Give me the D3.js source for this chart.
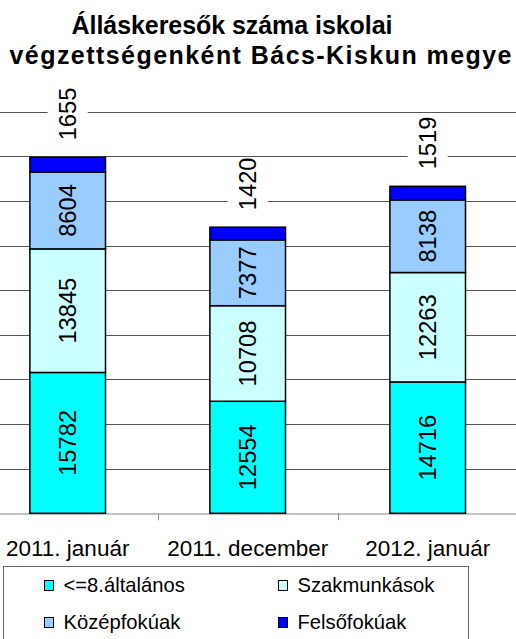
<!DOCTYPE html>
<html>
<head>
<meta charset="utf-8">
<script src="https://cdn.jsdelivr.net/npm/d3@7"></script>
<style>
  body { margin: 0; background: #fff; }
  svg { display: block; font-family: "Liberation Sans", Arial, sans-serif; }
</style>
</head>
<body>
<div id="wrapper"></div>
<script>
/* 1. Data */
const categories = ["2011. január", "2011. december", "2012. január"]
const seriesNames = ["<=8.általános", "Szakmunkások", "Középfokúak", "Felsőfokúak"]
const altalanos = [15782, 12554, 14716]
const szakmunkas = [13845, 10708, 12263]
const kozepfoku = [8604, 7377, 8138]
const felsofoku = [1655, 1420, 1519]
const gridTicks = [5000, 10000, 15000, 20000, 25000, 30000, 35000, 40000, 45000]
const titleLines = ["Álláskeresők száma iskolai", "végzettségenként Bács-Kiskun megye"]

const colors = ["#00ffff", "#ccffff", "#99ccff", "#0000ff"]

const dataset = categories.map((c, i) => ({
    cat: c,
    [seriesNames[0]]: altalanos[i],
    [seriesNames[1]]: szakmunkas[i],
    [seriesNames[2]]: kozepfoku[i],
    [seriesNames[3]]: felsofoku[i],
}))

/* 2. Dimensions */
const width = 516
const height = 639
// plot area is wider than the picture (cropped at both sides)
const plot = { left: -22.3, right: 517.7, top: 111.7, bottom: 513.3 }

/* 3. Canvas */
const svg = d3.select("#wrapper").append("svg")
    .attr("width", width)
    .attr("height", height)

/* 4. Scales */
const xScale = d3.scaleBand()
    .domain(categories)
    .range([plot.left, plot.right])
    .paddingInner(0.58)
    .paddingOuter(0.29)

const yScale = d3.scaleLinear()
    .domain([0, 45000])
    .range([plot.bottom, plot.top])

const colorScale = d3.scaleOrdinal()
    .domain(seriesNames)
    .range(colors)

/* 5. Title */
svg.selectAll(".title")
    .data(titleLines)
    .enter().append("text")
    .attr("class", "title")
    .attr("x", (d, i) => i === 0 ? 232 : 260.5)
    .attr("y", (d, i) => i === 0 ? 34 : 64)
    .attr("text-anchor", "middle")
    .attr("font-size", 25)
    .attr("font-weight", "bold")
    .attr("textLength", (d, i) => i === 0 ? 321 : 502)
    .attr("lengthAdjust", "spacing")
    .text(d => d)

/* 6. Gridlines and axis */
svg.append("g")
    .selectAll("line")
    .data(gridTicks)
    .enter().append("line")
    .attr("x1", plot.left)
    .attr("x2", plot.right)
    .attr("y1", d => Math.round(yScale(d)) + 0.5)
    .attr("y2", d => Math.round(yScale(d)) + 0.5)
    .attr("stroke", "#555")
    .attr("stroke-width", 1)

const xAxisGenerator = d3.axisBottom(xScale).tickSize(0).tickFormat("")
const xAxis = svg.append("g")
    .attr("transform", `translate(0, ${Math.round(plot.bottom) + 0.5})`)
    .call(xAxisGenerator)
xAxis.select(".domain").attr("stroke", "#888")

// ticks between categories
const step = xScale.step()
svg.append("g")
    .selectAll("line")
    .data(categories.slice(1))
    .enter().append("line")
    .attr("x1", d => Math.round(xScale(d) - (step - xScale.bandwidth()) / 2) + 0.5)
    .attr("x2", d => Math.round(xScale(d) - (step - xScale.bandwidth()) / 2) + 0.5)
    .attr("y1", plot.bottom)
    .attr("y2", plot.bottom + 7)
    .attr("stroke", "#888")

svg.append("g")
    .selectAll("text")
    .data(categories)
    .enter().append("text")
    .attr("x", d => xScale(d) + xScale.bandwidth() / 2)
    .attr("y", 556)
    .attr("text-anchor", "middle")
    .attr("font-size", 22.5)
    .text(d => d)

/* 7. Bars */
const stacked = d3.stack().keys(seriesNames)(dataset)

const layers = svg.append("g")
    .selectAll("g")
    .data(stacked)
    .enter().append("g")
    .attr("fill", d => colorScale(d.key))

layers.selectAll("rect")
    .data(d => d)
    .enter().append("rect")
    .attr("x", d => xScale(d.data.cat))
    .attr("width", xScale.bandwidth())
    .attr("y", d => yScale(d[1]))
    .attr("height", d => yScale(d[0]) - yScale(d[1]))
    .attr("stroke", "#000")
    .attr("stroke-width", 1.5)

// labels inside the lower three segments
stacked.slice(0, 3).forEach(layer => {
    svg.append("g")
        .selectAll("text")
        .data(layer)
        .enter().append("text")
        .attr("transform", d => {
            const cx = xScale(d.data.cat) + xScale.bandwidth() / 2
            const cy = (yScale(d[0]) + yScale(d[1])) / 2
            return `translate(${cx},${cy}) rotate(-90)`
        })
        .attr("text-anchor", "middle")
        .attr("dy", "0.35em")
        .attr("font-size", 23.7)
        .text(d => d[1] - d[0])
})

// top segment labels sit above the bars on a white box
const topLabels = svg.append("g")
    .selectAll("g")
    .data(stacked[3])
    .enter().append("g")
    .attr("transform", d => {
        const cx = xScale(d.data.cat) + xScale.bandwidth() / 2
        return `translate(${cx},${yScale(d[1]) - 17}) rotate(-90)`
    })

topLabels.append("rect")
    .attr("x", -4)
    .attr("y", -20)
    .attr("width", 52)
    .attr("height", 40)
    .attr("fill", "#fff")

topLabels.append("text")
    .attr("text-anchor", "start")
    .attr("dy", "0.35em")
    .attr("font-size", 23.7)
    .text(d => d[1] - d[0])

/* 8. Legend */
const legend = svg.append("g")
legend.append("rect")
    .attr("x", 3.5)
    .attr("y", 566.5)
    .attr("width", 465)
    .attr("height", 100)
    .attr("fill", "#fff")
    .attr("stroke", "#666")

const legendItems = legend.selectAll(".item")
    .data(seriesNames)
    .enter().append("g")
    .attr("class", "item")
    .attr("transform", (d, i) => `translate(${i % 2 === 0 ? 44 : 278}, ${i < 2 ? 580 : 617})`)

legendItems.append("rect")
    .attr("x", 0.5)
    .attr("y", 0.5)
    .attr("width", 9)
    .attr("height", 10)
    .attr("fill", d => colorScale(d))
    .attr("stroke", "#000")

legendItems.append("text")
    .attr("x", 19.5)
    .attr("y", 5)
    .attr("dy", "0.35em")
    .attr("font-size", 20.2)
    .text(d => d)
</script>
</body>
</html>
